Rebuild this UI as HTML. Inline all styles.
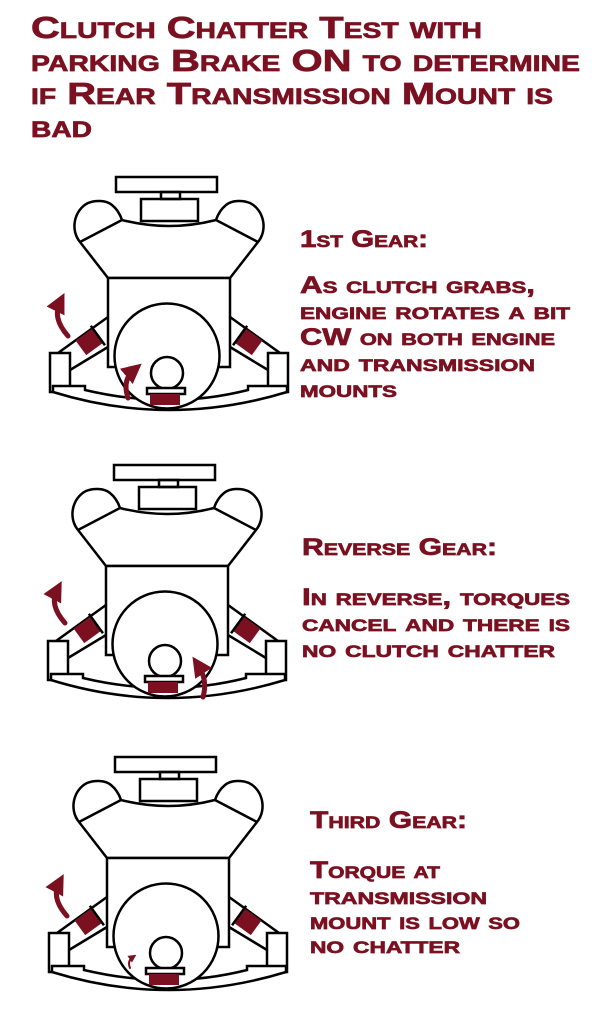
<!DOCTYPE html>
<html><head><meta charset="utf-8"><style>
html,body{margin:0;padding:0;background:#fff;}
svg{display:block;}
text{font-family:"Liberation Sans",sans-serif;font-weight:bold;fill:#7a1020;stroke:#7a1020;stroke-width:0.7;font-variant:small-caps;}
</style></head><body>
<svg width="607" height="1023" viewBox="0 0 607 1023" xmlns="http://www.w3.org/2000/svg">
<defs>
<marker id="ah" markerWidth="4" markerHeight="4" refX="2" refY="2" orient="auto" markerUnits="strokeWidth">
<path d="M0,0 L4,2 L0,4 z" fill="#7a1020"/></marker>
<g id="eng" fill="none" stroke="#000" stroke-width="2.5">
<rect x="116" y="177" width="101" height="15" fill="#fff"/>
<rect x="161" y="192" width="19" height="7"/>
<rect x="141" y="199" width="57" height="22"/>
<path d="M80,242 C70,230 74,210 88,203 C95,200 106,200 112,205 C117,209 120,214 122,220 Q169,232 216,220 C218,214 221,209 226,205 C232,200 243,200 250,203 C264,210 268,230 258,242 L230,278 L108,278 Z"/>
<path d="M80,242 L122,220 M258,242 L216,220"/>
<rect x="108" y="278" width="122" height="89" fill="#fff"/>
<path d="M108,317 L58,353 M108,347 L70,370 M230,317 L280,353 M230,347 L268,370"/>
<rect x="50" y="353" width="20" height="39" fill="#fff"/>
<rect x="268" y="353" width="20" height="39" fill="#fff"/>
<path d="M53,392 Q169,428 287,392 L287,386 L248,386 L248,390 Q169,410 85,390 L85,386 L53,386 Z" fill="#fff"/>
<circle cx="167" cy="356" r="52.5" fill="#fff"/>
<circle cx="167" cy="373" r="16" fill="#fff"/>
<rect x="147" y="388" width="38" height="6" fill="#fff"/>
<rect x="150" y="394" width="30" height="11" fill="#7a1020" stroke="none"/>
<g transform="translate(89,342) rotate(-36)"><rect x="-10" y="-9" width="20" height="18" fill="#7a1020" stroke="none"/><line x1="11" y1="-12" x2="11" y2="12"/></g>
<g transform="translate(249,342) rotate(36)"><rect x="-10" y="-9" width="20" height="18" fill="#7a1020" stroke="none"/><line x1="-11" y1="-12" x2="-11" y2="12"/></g>
</g>
</defs>
<g font-size="31">
<text x="31" y="38" textLength="451" lengthAdjust="spacingAndGlyphs">Clutch Chatter Test with</text>
<text x="31" y="71" textLength="549" lengthAdjust="spacingAndGlyphs">parking Brake ON to determine</text>
<text x="31" y="104" textLength="522" lengthAdjust="spacingAndGlyphs">if Rear Transmission Mount is</text>
<text x="31" y="137" textLength="61" lengthAdjust="spacingAndGlyphs">bad</text>
</g>

<use href="#eng"/>
<use href="#eng" transform="translate(-2,288)"/>
<use href="#eng" transform="translate(-1,580)"/>

<g fill="none" stroke="#7a1020" stroke-width="5" stroke-linecap="round">
<path d="M68,336 Q52,318 60,302" marker-end="url(#ah)"/>
<path d="M128,398 Q122,380 134,370" marker-end="url(#ah)"/>
<path d="M65,623 Q49,605 57,590" marker-end="url(#ah)"/>
<path d="M203,697 Q208,680 198,665" marker-end="url(#ah)"/>
<path d="M67,916 Q51,898 59,883" marker-end="url(#ah)"/>
<path d="M130,968 Q127,961 133,957" stroke-width="2" marker-end="url(#ah)"/>
</g>

<g font-size="24">
<text x="300" y="247" textLength="128" lengthAdjust="spacingAndGlyphs">1st Gear:</text>
<text x="300" y="293" textLength="235" lengthAdjust="spacingAndGlyphs">As clutch grabs,</text>
<text x="300" y="319" textLength="270" lengthAdjust="spacingAndGlyphs">engine rotates a bit</text>
<text x="300" y="345" textLength="255" lengthAdjust="spacingAndGlyphs">CW on both engine</text>
<text x="300" y="371" textLength="235" lengthAdjust="spacingAndGlyphs">and transmission</text>
<text x="300" y="397" textLength="97" lengthAdjust="spacingAndGlyphs">mounts</text>

<text x="302" y="555" textLength="195" lengthAdjust="spacingAndGlyphs">Reverse Gear:</text>
<text x="302" y="605" textLength="268" lengthAdjust="spacingAndGlyphs">In reverse, torques</text>
<text x="302" y="631" textLength="268" lengthAdjust="spacingAndGlyphs">cancel and there is</text>
<text x="302" y="657" textLength="253" lengthAdjust="spacingAndGlyphs">no clutch chatter</text>

<text x="310" y="828" textLength="157" lengthAdjust="spacingAndGlyphs">Third Gear:</text>
<text x="310" y="878" textLength="130" lengthAdjust="spacingAndGlyphs">Torque at</text>
<text x="310" y="904" textLength="177" lengthAdjust="spacingAndGlyphs">transmission</text>
<text x="310" y="929" textLength="210" lengthAdjust="spacingAndGlyphs">mount is low so</text>
<text x="310" y="953" textLength="150" lengthAdjust="spacingAndGlyphs">no chatter</text>
</g>
</svg>
</body></html>
